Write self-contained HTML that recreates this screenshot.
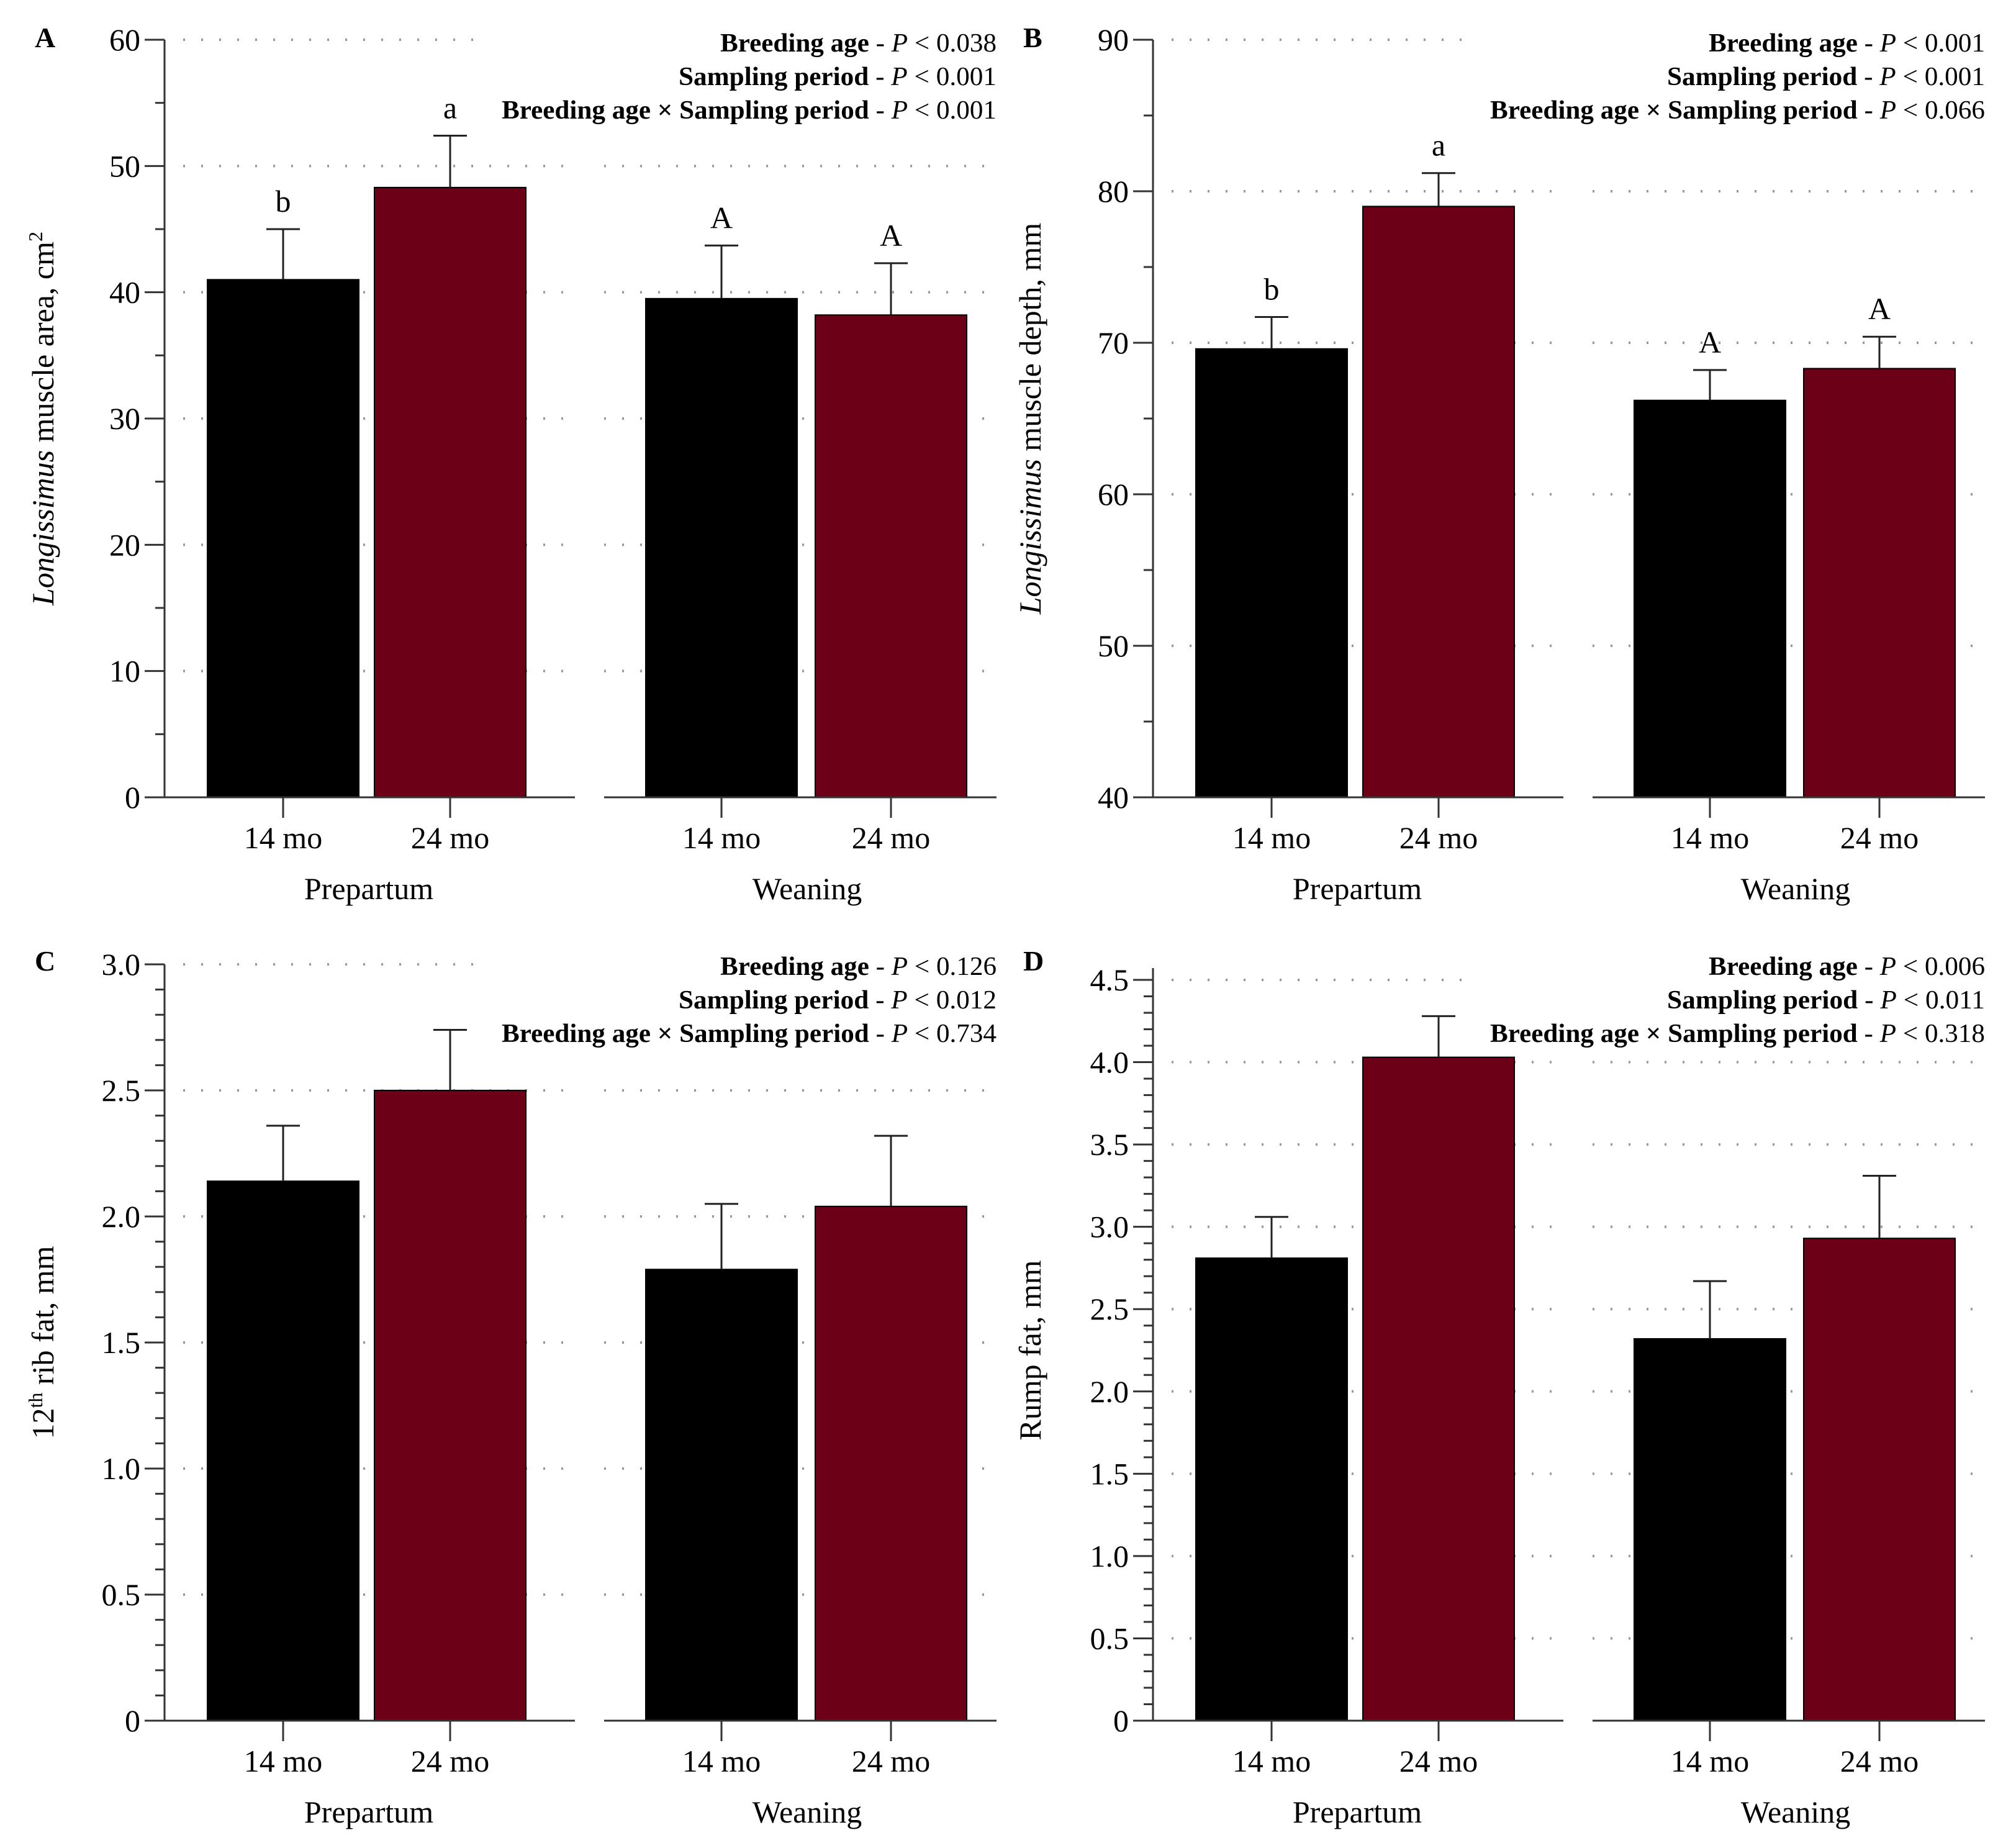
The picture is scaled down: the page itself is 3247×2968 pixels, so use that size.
<!DOCTYPE html>
<html><head><meta charset="utf-8"><style>
html,body{margin:0;padding:0;background:#fff;}
svg{display:block;font-family:"Liberation Serif",serif;}
</style></head><body>
<svg id="chart" width="3247" height="2968" viewBox="0 0 3247 2968" xmlns="http://www.w3.org/2000/svg"></svg>
<script>
const categories = ["14 mo","24 mo","14 mo","24 mo"];
const groups = ["Prepartum","Weaning"];
const valsA = [41.0, 48.3, 39.5, 38.2];
const errA = [45.0, 52.4, 43.7, 42.3];
const valsB = [69.6, 79.0, 66.2, 68.3];
const errB = [71.7, 81.2, 68.2, 70.4];
const valsC = [2.14, 2.50, 1.79, 2.04];
const errC = [2.36, 2.74, 2.05, 2.32];
const valsD = [2.81, 4.03, 2.32, 2.93];
const errD = [3.06, 4.28, 2.67, 3.31];
const ticksA = [0,10,20,30,40,50,60];
const ticksB = [40,50,60,70,80,90];
const ticksC = ["0","0.5","1.0","1.5","2.0","2.5","3.0"];
const ticksD = ["0","0.5","1.0","1.5","2.0","2.5","3.0","3.5","4.0","4.5"];
const lettersA = ["b","a","A","A"];
const lettersB = ["b","a","A","A"];
const pA = ["0.038","0.001","0.001"];
const pB = ["0.001","0.001","0.066"];
const pC = ["0.126","0.012","0.734"];
const pD = ["0.006","0.011","0.318"];

const NS="http://www.w3.org/2000/svg";
const svg=document.getElementById('chart');
function mk(tag,attrs,parent){const e=document.createElementNS(NS,tag);for(const k in attrs)e.setAttribute(k,attrs[k]);(parent||svg).appendChild(e);return e;}

const panels=[
 {id:'a',label:'A',ox:0,oy:0,min:0,max:60,top:64,minor:5,ticks:ticksA,vals:valsA,errs:errA,letters:lettersA,p:pA,title:'area'},
 {id:'b',label:'B',ox:1592,oy:0,min:40,max:90,top:64,minor:5,ticks:ticksB,vals:valsB,errs:errB,letters:lettersB,p:pB,title:'depth'},
 {id:'c',label:'C',ox:0,oy:1487,min:0,max:3,top:66,minor:0.1,ticks:ticksC,vals:valsC,errs:errC,letters:null,p:pC,title:'rib'},
 {id:'d',label:'D',ox:1592,oy:1487,min:0,max:4.5,top:91,minor:0.1,ticks:ticksD,vals:valsD,errs:errD,letters:null,p:pD,title:'rump',axTop:72}
];
const centers=[456,725,1162,1435];
const segs=[[265,926],[973,1605]];
const groupCenters=[594,1300];

panels.forEach(P=>{
 const g=mk('g',{transform:`translate(${P.ox},${P.oy})`});
 
 
 const y0=1284;
 const y=v=>y0-(v-P.min)/(P.max-P.min)*(y0-P.top);
 P.ticks.forEach(t=>{
   const v=parseFloat(t); if(v===P.min) return;
   const yy=y(v);
   segs.forEach((s,i)=>{
     let x1=(i===0?s[0]+30:s[0]), x2=s[1];
     if(yy<205){ if(i===1) return; x2=780; }
     const l=mk('line',{x1:x1,x2:x2,y1:yy,y2:yy,stroke:'#999','stroke-width':4,'stroke-dasharray':'3 26','stroke-linecap':'butt'},g);
     
     
   });
 });
 P.vals.forEach((v,i)=>{
   const b=mk('rect',{x:centers[i]-122,y:y(v),width:244,height:y0-y(v),fill:i%2?'#6b0016':'#000',stroke:'#000','stroke-width':2},g);
   
   
   const e=mk('path',{d:`M${centers[i]},${y(v)}V${y(P.errs[i])}M${centers[i]-27},${y(P.errs[i])}H${centers[i]+27}`,stroke:'#222','stroke-width':3,fill:'none'},g);
   
   
   if(P.letters){
     const t=mk('text',{x:centers[i],y:y(P.errs[i])-28,'font-size':50,'text-anchor':'middle'},g);
     t.textContent=P.letters[i];
     
     
   }
 });
 const ax=mk('line',{x1:265,x2:265,y1:y0+1,y2:P.axTop||P.top,stroke:'#333','stroke-width':3},g);
 
 
 const nMinor=Math.round((P.max-P.min)/P.minor);
 for(let k=0;k<=nMinor;k++){
   const v=P.min+k*P.minor; const yy=y(v);
   const major=P.ticks.some(t=>Math.abs(parseFloat(t)-v)<1e-6);
   mk('line',{x1:major?233:250,x2:265,y1:yy,y2:yy,stroke:'#333','stroke-width':3},g);
 }
 P.ticks.forEach(t=>{
   const tx=mk('text',{x:226,y:y(parseFloat(t))+17,'font-size':50,'text-anchor':'end'},g);
   tx.textContent=t;
   
   
 });
 segs.forEach(s=>{
   const l=mk('line',{x1:s[0],x2:s[1],y1:y0,y2:y0,stroke:'#333','stroke-width':3},g);
   
   
 });
 categories.forEach((c,i)=>{
   mk('line',{x1:centers[i],x2:centers[i],y1:y0,y2:y0+33,stroke:'#333','stroke-width':3},g);
   const t=mk('text',{x:centers[i],y:y0+82,'font-size':50,'text-anchor':'middle'},g);
   t.textContent=c;
   
   
 });
 groups.forEach((gr,i)=>{
   const t=mk('text',{x:groupCenters[i],y:y0+164,'font-size':50,'text-anchor':'middle'},g);
   t.textContent=gr;
   
   
 });
 const pl=mk('text',{x:56,y:76,'font-size':46,'font-weight':'bold'},g);
 pl.textContent=P.label;
 
 
 const names=['Breeding age','Sampling period','Breeding age × Sampling period'];
 const widths=[445,512,797];
 names.forEach((n,i)=>{
   const t=mk('text',{x:1605,y:83+i*54,'font-size':42,'text-anchor':'end',textLength:widths[i],lengthAdjust:'spacingAndGlyphs'},g);
   t.innerHTML=`<tspan font-weight="bold">${n}</tspan> - <tspan font-style="italic">P</tspan> &lt; ${P.p[i]}`;
   
   
 });
 const tx=P.id==='a'||P.id==='c'?86:84;
 const yt=mk('text',{transform:`translate(${tx},${(y0+P.top)/2}) rotate(-90)`,'font-size':50,'text-anchor':'middle'},g);
 if(P.title==='area') yt.innerHTML='<tspan font-style="italic">Longissimus</tspan> muscle area, cm<tspan baseline-shift="super" font-size="32">2</tspan>';
 else if(P.title==='depth') yt.innerHTML='<tspan font-style="italic">Longissimus</tspan> muscle depth, mm';
 else if(P.title==='rib') yt.innerHTML='12<tspan baseline-shift="super" font-size="32">th</tspan> rib fat, mm';
 else yt.textContent='Rump fat, mm';
 
 
});
</script>
</body></html>
